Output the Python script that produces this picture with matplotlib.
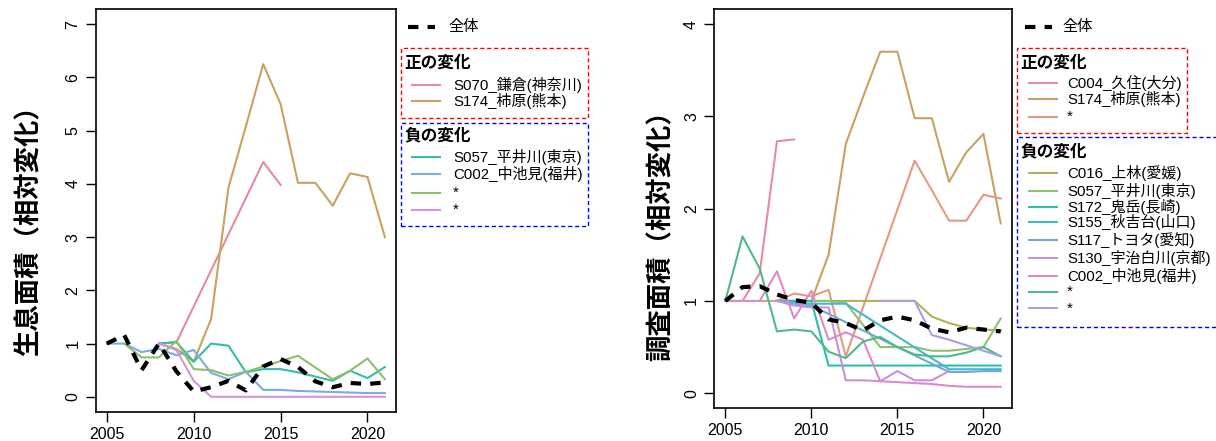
import matplotlib
matplotlib.use("Agg")
import matplotlib.pyplot as plt
from matplotlib.lines import Line2D
from matplotlib.patches import Rectangle

plt.rcParams['font.family'] = ['Liberation Sans', 'Noto Sans CJK JP', 'DejaVu Sans']

years = list(range(2005, 2022))
N = None

# ---- left panel: 生息面積 ----
L_all = [1.0, 1.16, 0.50, 1.0, 0.48, 0.10, 0.18, 0.30, 0.12, 0.57, 0.71, 0.56, 0.29, 0.18, 0.26, 0.24, 0.27]
L_S070 = [N, N, N, 1.0, 1.02, N, N, N, N, 4.41, 3.98, N, N, N, N, N, N]
L_S174 = [N, N, N, 1.0, 0.90, 0.66, 1.46, 3.93, 5.08, 6.25, 5.50, 4.02, 4.02, 3.59, 4.20, 4.13, 3.00]
L_S057 = [N, N, N, 1.0, 1.03, 0.66, 1.0, 0.96, 0.46, 0.52, 0.52, 0.46, 0.38, 0.30, 0.49, 0.35, 0.56]
L_C002 = [1.0, 1.0, 0.84, 0.90, 0.78, 0.88, 0.45, 0.33, 0.47, 0.13, 0.13, 0.11, 0.10, 0.09, 0.08, 0.07, 0.07]
L_g = [N, 1.0, 0.74, 0.74, 1.05, 0.52, 0.50, 0.40, 0.47, 0.57, 0.67, 0.77, 0.55, 0.33, 0.49, 0.72, 0.33]
L_p = [N, N, N, 1.0, 0.88, 0.30, 0.0, 0.0, 0.0, 0.0, 0.0, 0.0, 0.0, 0.0, 0.0, 0.0, 0.0]

L_pos = [("S070_鎌倉(神奈川)", L_S070, '#E88A9D'),
         ("S174_柿原(熊本)", L_S174, '#C9A163')]
L_neg = [("S057_平井川(東京)", L_S057, '#36BCA8'),
         ("C002_中池見(福井)", L_C002, '#7AADDF'),
         ("*", L_g, '#8DBF6A'),
         ("*", L_p, '#D096DC')]

# ---- right panel: 調査面積 ----
R_all = [1.0, 1.15, 1.16, 1.07, 1.01, 0.98, 0.80, 0.76, 0.68, 0.79, 0.83, 0.79, 0.70, 0.66, 0.71, 0.69, 0.67]
R_C004 = [1.0, 1.0, 1.30, 2.73, 2.75, N, N, N, N, N, N, N, N, N, N, N, N]
R_S174 = [N, N, N, 1.0, 1.0, 1.0, 1.50, 2.70, 3.21, 3.70, 3.70, 2.98, 2.98, 2.29, 2.61, 2.81, 1.84]
R_sal = [N, N, 1.0, 1.0, 1.08, 1.05, 1.12, 0.40, N, N, N, 2.52, 2.20, 1.87, 1.87, 2.15, 2.11]
R_C016 = [N, N, N, 1.0, 1.0, 1.0, 1.0, 1.0, 1.0, 1.0, 1.0, 1.0, 0.83, 0.76, 0.71, 0.69, 0.68]
R_S057 = [N, N, N, 1.0, 1.0, 1.0, 1.0, 0.98, N, 0.50, 0.50, 0.50, 0.46, 0.46, 0.48, 0.50, 0.81]
R_S172 = [N, N, N, 1.0, 1.0, 1.0, 0.30, 0.30, 0.30, 0.30, 0.30, 0.30, 0.30, 0.30, 0.30, 0.30, 0.30]
R_S155 = [N, N, N, 1.0, 0.98, 0.97, 0.97, 0.97, N, N, N, N, N, 0.26, 0.26, 0.26, 0.26]
R_S117 = [N, N, N, 1.0, 0.97, 0.95, N, N, N, N, N, N, N, 0.23, 0.23, 0.24, 0.24]
R_S130 = [N, N, N, 1.0, 0.95, 0.93, 0.93, 0.14, 0.14, 0.13, 0.24, 0.14, 0.14, 0.24, N, N, N]
R_C002 = [1.0, 1.0, 1.0, 1.32, 0.81, 1.11, 0.58, 0.66, 0.58, 0.13, 0.12, 0.11, 0.10, 0.08, 0.07, 0.07, 0.07]
R_g = [1.0, 1.70, 1.35, 0.67, 0.69, 0.67, 0.45, 0.38, 0.56, 0.61, 0.50, 0.42, 0.40, 0.40, 0.44, 0.50, 0.40]
R_lav = [N, N, N, N, N, N, N, N, N, 1.0, 1.0, 1.0, 0.63, 0.58, 0.52, 0.46, 0.40]

R_pos = [("C004_久住(大分)", R_C004, '#EA8AA1'),
         ("S174_柿原(熊本)", R_S174, '#C9A163'),
         ("*", R_sal, '#E49A80')]
R_neg = [("C016_上林(愛媛)", R_C016, '#B2B158'),
         ("S057_平井川(東京)", R_S057, '#8EC172'),
         ("S172_鬼岳(長崎)", R_S172, '#2DBFAE'),
         ("S155_秋吉台(山口)", R_S155, '#45B8CC'),
         ("S117_トヨタ(愛知)", R_S117, '#6FA8DC'),
         ("S130_宇治白川(京都)", R_S130, '#C890E0'),
         ("C002_中池見(福井)", R_C002, '#DD8BC8'),
         ("*", R_g, '#4DBA8A'),
         ("*", R_lav, '#A8A0E6')]

W, H = 1216, 441
DASH = (0, (2.5, 2.2))
fig = plt.figure(figsize=(W / 100, H / 100), dpi=100)


def fx(px):
    return px / W


def fy(py):
    return 1 - py / H


def pts(vals):
    xs = [y for y, v in zip(years, vals) if v is not None]
    ys = [v for v in vals if v is not None]
    return xs, ys


def panel(rect, series, overall, ylim, yticks, ylabel, lab_xy):
    ax = fig.add_axes(rect)
    for name, vals, col in series:
        ax.plot(*pts(vals), color=col, lw=1.5)
    ax.plot(*pts(overall), color='black', lw=3, ls=DASH, zorder=5)
    ax.set_xlim(2004.36, 2021.64)
    lo, hi = ylim
    pad = (hi - lo) * 0.04
    ax.set_ylim(lo - pad, hi + pad)
    ax.set_xticks([2005, 2010, 2015, 2020])
    ax.set_yticks(yticks)
    ax.tick_params(direction='out', length=7, width=1, labelsize=11.5, pad=4)
    for lab in ax.get_yticklabels():
        lab.set_rotation(90)
        lab.set_va('center')
    for s in ax.spines.values():
        s.set_linewidth(1.2)
    fig.text(fx(lab_xy[0]), fy(lab_xy[1]), ylabel, rotation=90, fontsize=19,
             fontweight='bold', family=['Noto Sans CJK JP'], ha='center', va='center')
    return ax


def legend(x_line, x_text, y_all, title_x, red_box, pos, pos_y, pos_title_y,
           blue_box, neg, neg_y, neg_title_y):
    fig.add_artist(Line2D([fx(x_line - 4), fx(x_line + 23)], [fy(y_all)] * 2,
                          transform=fig.transFigure, color='black', lw=3, ls=DASH))
    fig.text(fx(x_text - 5), fy(y_all), "全体", fontsize=11, va='center')
    for (x0, y0, x1, y1), col in ((red_box, 'red'), (blue_box, 'blue')):
        fig.add_artist(Rectangle((fx(x0), fy(y1)), fx(x1) - fx(x0), fy(y0) - fy(y1),
                                 transform=fig.transFigure, fill=False, ec=col,
                                 ls=(0, (3, 2)), lw=1))
    fig.text(fx(title_x), fy(pos_title_y), "正の変化", fontsize=12, fontweight='bold', va='center')
    fig.text(fx(title_x), fy(neg_title_y), "負の変化", fontsize=12, fontweight='bold', va='center')
    for (name, vals, col), y in list(zip(pos, pos_y)) + list(zip(neg, neg_y)):
        fig.add_artist(Line2D([fx(x_line), fx(x_line + 28)], [fy(y)] * 2,
                              transform=fig.transFigure, color=col, lw=1.5))
        fig.text(fx(x_text), fy(y), name, fontsize=10.8, va='center')


panel([fx(95.7), fy(411.7), fx(396) - fx(95.7), fy(9.3) - fy(411.7)],
      L_pos + L_neg, L_all, (0, 7), range(0, 8), "生息面積（相対変化）", (29, 224))
panel([fx(714.3), fy(408), fx(1011.7) - fx(714.3), fy(9.3) - fy(408)],
      R_pos + R_neg, R_all, (0, 4), range(0, 5), "調査面積（相対変化）", (661, 229))

legend(412, 453, 27, 404, (401, 48, 588, 118), L_pos, [85, 100.7], 63,
       (401, 123, 588, 226), L_neg, [156.7, 174, 192.7, 210], 136)
legend(1029, 1067, 27, 1020, (1017, 48, 1187, 133), R_pos, [82.7, 99.3, 116.7], 62.7,
       (1017, 137, 1225, 327), R_neg,
       [173.3, 191, 206.7, 222.3, 240, 257.7, 275.7, 291.7, 308.3], 151.7)

fig.savefig("out.png", dpi=100)
